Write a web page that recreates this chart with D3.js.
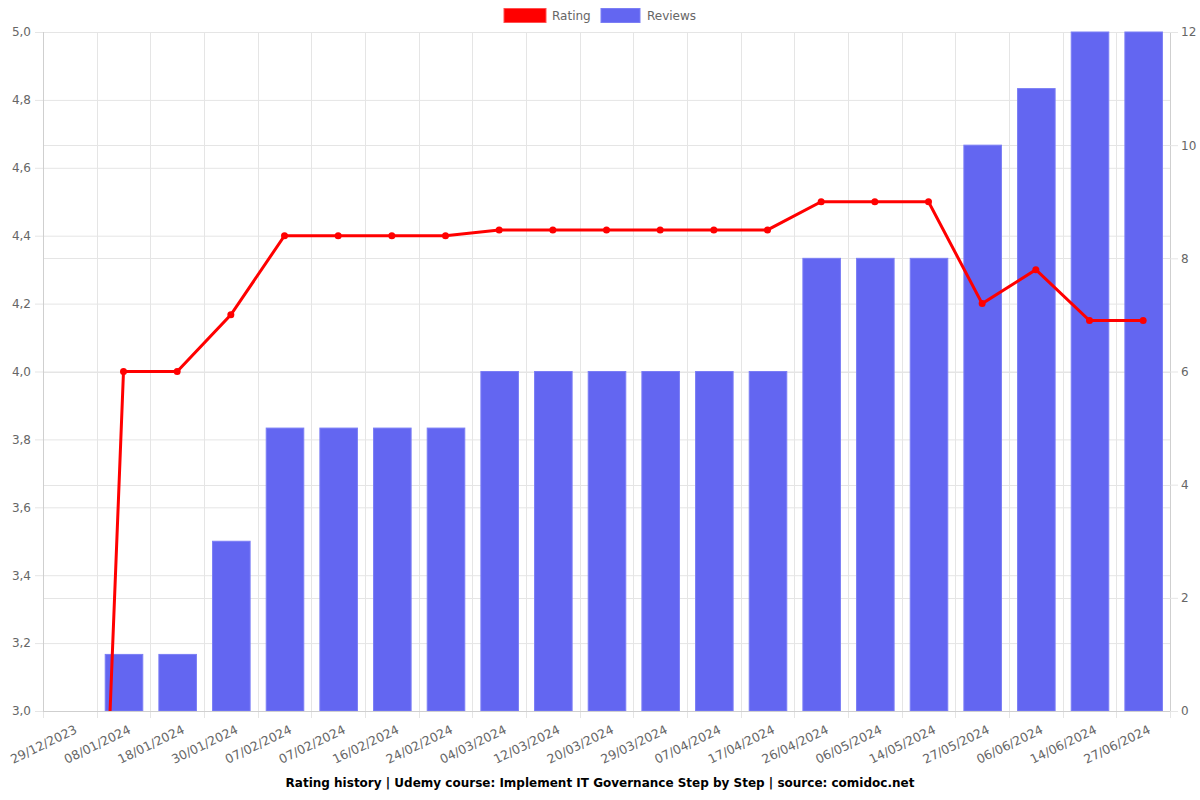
<!DOCTYPE html>
<html><head><meta charset="utf-8">
<script src="https://cdn.jsdelivr.net/npm/d3@7"></script>
<style>body{margin:0;background:#fff}svg{display:block}text{font-family:"DejaVu Sans",sans-serif}</style>
</head><body><svg id="c" width="1200" height="800"></svg>
<script>
const categories = ["29/12/2023","08/01/2024","18/01/2024","30/01/2024","07/02/2024","07/02/2024","16/02/2024","24/02/2024","04/03/2024","12/03/2024","20/03/2024","29/03/2024","07/04/2024","17/04/2024","26/04/2024","06/05/2024","14/05/2024","27/05/2024","06/06/2024","14/06/2024","27/06/2024"];
const reviews = [0,1,1,3,5,5,5,5,6,6,6,6,6,6,8,8,8,10,11,12,12];
const rating = [0,4.0,4.0,4.167,4.4,4.4,4.4,4.4,4.417,4.417,4.417,4.417,4.417,4.417,4.5,4.5,4.5,4.2,4.3,4.15,4.15];
const ratingTicks = [3.0,3.2,3.4,3.6,3.8,4.0,4.2,4.4,4.6,4.8,5.0];
const reviewTicks = [0,2,4,6,8,10,12];
const title = "Rating history | Udemy course: Implement IT Governance Step by Step | source: comidoc.net";

const svg = d3.select("#c");
const L = 43, R = 1170, T = 32, B = 711;
const x = d3.scaleBand().domain(d3.range(categories.length)).range([L, R]).paddingInner(0).paddingOuter(0);
const yL = d3.scaleLinear().domain([3, 5]).range([B, T]);
const yR = d3.scaleLinear().domain([0, 12]).range([B, T]);
const grid = "#e5e5e5";

// horizontal grids
svg.append("g").selectAll("line").data(ratingTicks).join("line")
  .attr("x1", L).attr("x2", R).attr("y1", d => yL(d) + 0.5).attr("y2", d => yL(d) + 0.5)
  .attr("stroke", grid).attr("stroke-width", 1);
svg.append("g").selectAll("line").data(reviewTicks).join("line")
  .attr("x1", L).attr("x2", R).attr("y1", d => Math.round(yR(d)) + 0.5).attr("y2", d => Math.round(yR(d)) + 0.5)
  .attr("stroke", grid).attr("stroke-width", 1);
// vertical grids at band boundaries
const bounds = d3.range(categories.length + 1).map(i => L + i * x.bandwidth());
svg.append("g").selectAll("line").data(bounds).join("line")
  .attr("x1", d => Math.round(d) + 0.5).attr("x2", d => Math.round(d) + 0.5).attr("y1", T).attr("y2", B + 7)
  .attr("stroke", grid).attr("stroke-width", 1);

// bars
const bw = x.bandwidth() * 0.7;
svg.append("g").selectAll("rect").data(reviews).join("rect")
  .attr("x", (d, i) => x(i) + (x.bandwidth() - bw) / 2 + 0.5)
  .attr("width", bw)
  .attr("y", d => yR(d))
  .attr("height", d => B - yR(d))
  .attr("fill", "#6366f1").attr("stroke", "#7b7ef5").attr("stroke-width", 1);

// axis lines
svg.append("line").attr("x1", L).attr("x2", R).attr("y1", B + 0.5).attr("y2", B + 0.5).attr("stroke", "#cfcfcf");
svg.append("line").attr("x1", L + 0.5).attr("x2", L + 0.5).attr("y1", T).attr("y2", B).attr("stroke", "#cfcfcf");
svg.append("line").attr("x1", R + 0.5).attr("x2", R + 0.5).attr("y1", T).attr("y2", B).attr("stroke", "#cfcfcf");

// left axis
const fmt = d => d.toFixed(1).replace(".", ",");
const gl = svg.append("g").attr("transform", `translate(${L},0)`)
  .call(d3.axisLeft(yL).tickValues(ratingTicks).tickFormat(fmt).tickSize(8).tickPadding(4));
gl.select(".domain").remove();
gl.selectAll("line").attr("stroke", grid);
gl.selectAll("text").attr("fill", "#666").style("font-size", "12px").style("font-family", "DejaVu Sans");

// right axis
const gr = svg.append("g").attr("transform", `translate(${R},0)`)
  .call(d3.axisRight(yR).tickValues(reviewTicks).tickSize(8).tickPadding(3));
gr.select(".domain").remove();
gr.selectAll("line").attr("stroke", grid);
gr.selectAll("text").attr("fill", "#666").style("font-size", "12px").style("font-family", "DejaVu Sans");

// x labels
svg.append("g").selectAll("text").data(categories).join("text")
  .attr("transform", (d, i) => `translate(${x(i) + x.bandwidth() / 2 + 4},${B + 13}) rotate(-26)`)
  .attr("text-anchor", "end").attr("dy", "0.75em")
  .attr("fill", "#666").style("font-size", "12.5px")
  .text(d => d);

// rating line (clipped)
svg.append("clipPath").attr("id", "clip").append("rect").attr("x", L).attr("y", T - 5).attr("width", R - L).attr("height", B - T + 5);
const line = d3.line().x((d, i) => x(i) + x.bandwidth() / 2).y(d => yL(d));
svg.append("path").datum(rating).attr("d", line).attr("fill", "none")
  .attr("stroke", "#ff0000").attr("stroke-width", 3).attr("clip-path", "url(#clip)");
svg.append("g").attr("clip-path", "url(#clip)").selectAll("circle").data(rating).join("circle")
  .attr("cx", (d, i) => x(i) + x.bandwidth() / 2).attr("cy", d => yL(d)).attr("r", 3.5)
  .attr("fill", "#ff0000");

// legend
const lg = svg.append("g");
lg.append("rect").attr("x", 504).attr("y", 8.5).attr("width", 42).attr("height", 14).attr("fill", "#ff0000").attr("stroke", "#ff5050");
lg.append("text").attr("x", 552).attr("y", 20).attr("fill", "#666").style("font-size", "12px").text("Rating");
lg.append("rect").attr("x", 601).attr("y", 8.5).attr("width", 39).attr("height", 14).attr("fill", "#6366f1").attr("stroke", "#7b7ef5");
lg.append("text").attr("x", 647).attr("y", 20).attr("fill", "#666").style("font-size", "12px").text("Reviews");

// title
svg.append("text").attr("x", 600).attr("y", 787).attr("text-anchor", "middle")
  .style("font-size", "12px").style("font-weight", "bold").attr("fill", "#000").text(title);
</script></body></html>
